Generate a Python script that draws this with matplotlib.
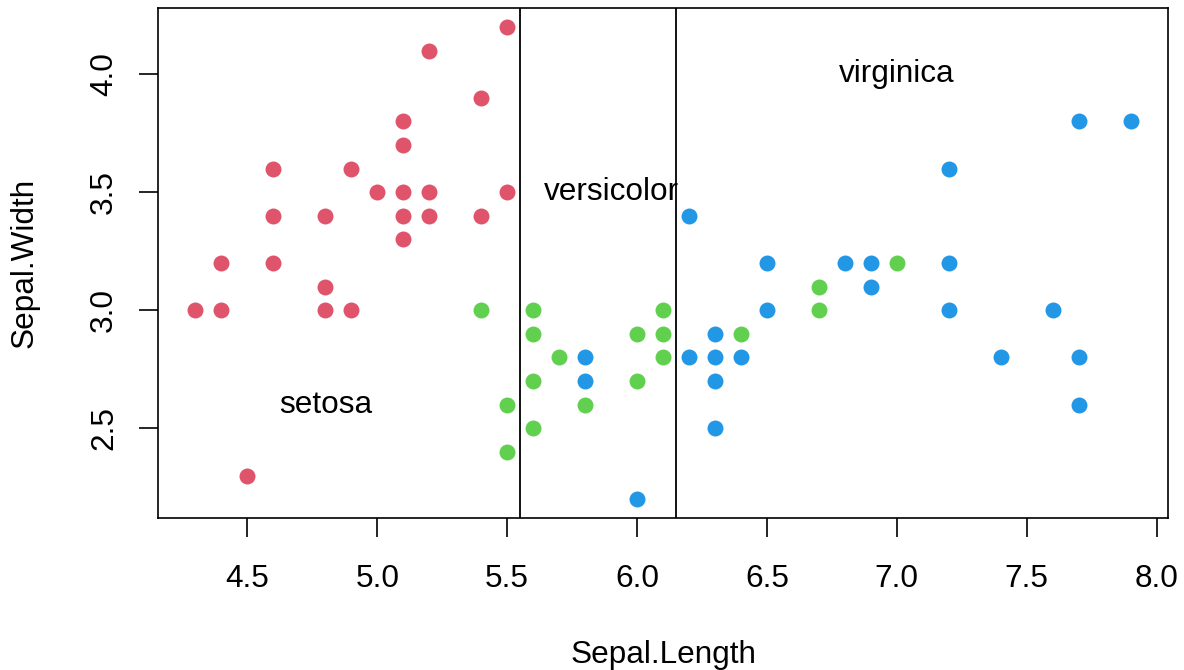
import matplotlib
matplotlib.use("Agg")
import matplotlib.pyplot as plt

plt.rcParams['font.family'] = ['Liberation Sans', 'DejaVu Sans']

# iris subset: sepal length / width per species
setosa_x = [4.3, 4.4, 4.4, 4.5, 4.6, 4.6, 4.6, 4.8, 4.8, 4.8, 4.9, 4.9, 5.0,
            5.1, 5.1, 5.1, 5.1, 5.1, 5.2, 5.2, 5.2, 5.4, 5.4, 5.5, 5.5]
setosa_y = [3.0, 3.0, 3.2, 2.3, 3.6, 3.4, 3.2, 3.4, 3.1, 3.0, 3.6, 3.0, 3.5,
            3.8, 3.7, 3.5, 3.4, 3.3, 4.1, 3.5, 3.4, 3.9, 3.4, 4.2, 3.5]

versicolor_x = [5.4, 5.5, 5.5, 5.6, 5.6, 5.6, 5.6, 5.7, 5.8, 6.0, 6.0, 6.1,
                6.1, 6.1, 6.4, 6.7, 6.7, 7.0]
versicolor_y = [3.0, 2.6, 2.4, 3.0, 2.9, 2.7, 2.5, 2.8, 2.6, 2.9, 2.7, 3.0,
                2.9, 2.8, 2.9, 3.1, 3.0, 3.2]

virginica_x = [5.8, 5.8, 6.0, 6.2, 6.2, 6.3, 6.3, 6.3, 6.3, 6.4, 6.5, 6.5,
               6.8, 6.9, 6.9, 7.2, 7.2, 7.2, 7.4, 7.6, 7.7, 7.7, 7.7, 7.9]
virginica_y = [2.8, 2.7, 2.2, 3.4, 2.8, 2.9, 2.8, 2.7, 2.5, 2.8, 3.2, 3.0,
               3.2, 3.2, 3.1, 3.6, 3.2, 3.0, 2.8, 3.0, 3.8, 2.8, 2.6, 3.8]

splits = [5.55, 6.15]
label_names = ['setosa', 'versicolor', 'virginica']
label_x = [4.8, 5.9, 7.0]
label_y = [2.6, 3.5, 4.0]

fs = 22.7

fig = plt.figure(figsize=(11.84, 6.70), dpi=100)
ax = fig.add_axes([158 / 1184, 1 - 518 / 670, 1010 / 1184, 510 / 670])

ax.scatter(setosa_x, setosa_y, s=132, color='#DF536B', linewidths=0, zorder=3)
ax.scatter(versicolor_x, versicolor_y, s=132, color='#61D04F', linewidths=0, zorder=3)
ax.scatter(virginica_x, virginica_y, s=132, color='#2297E6', linewidths=0, zorder=3)

for v in splits:
    ax.axvline(v, color='black', linewidth=1.3, zorder=2)

for name, tx, ty in zip(label_names, label_x, label_y):
    ax.text(tx, ty, name, fontsize=fs, ha='center', va='center', zorder=4)

ax.set_xlim(4.156, 8.044)
ax.set_ylim(2.12, 4.28)
ax.set_xticks([4.5, 5.0, 5.5, 6.0, 6.5, 7.0, 7.5, 8.0])
ax.set_yticks([2.5, 3.0, 3.5, 4.0])
ax.set_xticklabels(['4.5', '5.0', '5.5', '6.0', '6.5', '7.0', '7.5', '8.0'])
ax.set_yticklabels(['2.5', '3.0', '3.5', '4.0'], rotation=90, va='center')

ax.tick_params(axis='both', labelsize=fs, length=14, width=1.2, direction='out')
ax.tick_params(axis='x', pad=19)
ax.tick_params(axis='y', pad=14)
for sp in ax.spines.values():
    sp.set_linewidth(1.2)

ax.set_xlabel('Sepal.Length', fontsize=fs)
ax.set_ylabel('Sepal.Width', fontsize=fs)
ax.xaxis.set_label_coords(0.5, -(655 - 518) / 510, transform=ax.transAxes)
ax.yaxis.set_label_coords(-(158 - 25) / 1010, 0.5, transform=ax.transAxes)
ax.xaxis.label.set_va('center')
ax.yaxis.label.set_va('center')

fig.savefig('out.png', dpi=100)
